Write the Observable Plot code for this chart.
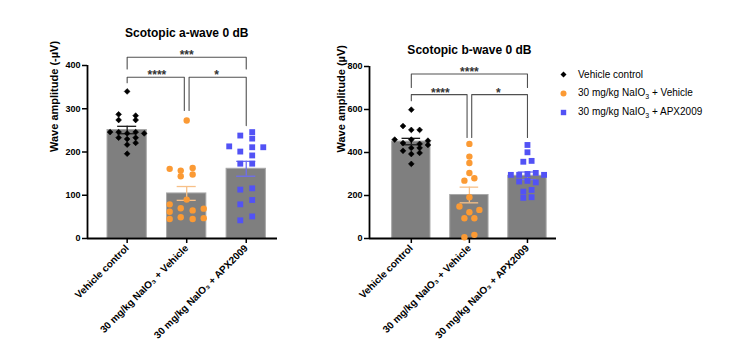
<!DOCTYPE html>
<html><head><meta charset="utf-8">
<script src="https://cdn.jsdelivr.net/npm/d3@7"></script>
<script src="https://cdn.jsdelivr.net/npm/@observablehq/plot@0.6"></script>
<style>
body{margin:0;background:#fff;font-family:"Liberation Sans",Arial,sans-serif;color:#000;}
#wrap{position:relative;width:736px;height:356px;overflow:hidden;background:#fff;}
#left,#right{position:absolute;top:0;}
#left{left:0px;}
#right{left:300px;}
#legend{position:absolute;left:560px;top:65px;font-size:10px;}
#legend .row{display:flex;align-items:center;height:19px;white-space:nowrap;}
#legend svg{margin-right:11px;}
</style></head>
<body><div id="wrap"><div id="left"></div><div id="right"></div><div id="legend"></div></div>
<script>
// ---------- data ----------
const groups = ["Vehicle control", "30 mg/kg NaIO₃ + Vehicle", "30 mg/kg NaIO₃ + APX2009"];
const groupColors = ["#000000", "#fb9a34", "#5252f5"];
const errColors = ["#1a1a1a", "#f7c088", "#6e6ef2"];
const groupSymbols = ["diamond2", "circle", "square"];

// Scotopic a-wave (values, column slots)
const aTitle = "Scotopic a-wave 0 dB";
const aYLabel = "Wave amplitude (-µV)";
const aTicks = [0, 100, 200, 300, 400];
const aCtrl = [340, 287, 284, 274, 274, 246, 246, 243, 246, 243, 233, 230, 233, 217, 221, 196];
const aCtrlCol = [0, -1, 1, -1, 1, -2, -1, 0, 1, 2, -1, 0, 1, 0, 1, 0];
const aVeh = [273, 161, 157, 163, 144, 148, 90, 79, 62, 45, 70, 49, 65, 45, 69, 47];
const aVehCol = [0, -2, -0.7, 0.7, -0.7, 0.7, 0, -2, -2, -2, -0.7, -0.7, 0.7, 0.7, 2, 2];
const aApx = [238, 246, 231, 213, 211, 211, 201, 192, 173, 173, 113, 116, 79, 89, 42, 51];
const aApxCol = [-0.7, 0.7, 0.7, -2, 0.7, 2, -0.7, 0.7, -0.7, 0.7, -0.7, 0.7, -0.7, 0.7, -0.7, 0.7];
const aBrFrom = [0, 0, 1];
const aBrTo = [2, 1, 2];
const aBrLevel = [419, 373, 373];
const aBrDropFrom = [392, 360, 296];
const aBrDropTo = [392, 296, 261];
const aBrLabel = ["***", "****", "*"];

// Scotopic b-wave
const bTitle = "Scotopic b-wave 0 dB";
const bYLabel = "Wave amplitude (µV)";
const bTicks = [0, 200, 400, 600, 800];
const bCtrl = [599, 523, 505, 505, 460, 444, 460, 440, 455, 435, 408, 421, 421, 393, 398, 347];
const bCtrlCol = [0, -1, 0, 1, -2, -1, 0, 1, 2, 2, -1, 0, 1, 0, 1, 0];
const bVeh = [440, 381, 351, 305, 269, 280, 192, 149, 133, 122, 94, 94, 6, 17];
const bVehCol = [0, 0, 0, 0, -0.6, 0.6, 0, -1.2, 1.2, 0, -0.6, 0.6, -0.6, 0.6];
const bApx = [435, 401, 357, 361, 296, 296, 300, 305, 296, 265, 268, 261, 218, 226, 189, 192];
const bApxCol = [0, 0, -0.5, 0.5, -2, -1, 0, 1, 2, -1, 0, 1, -0.5, 0.5, -0.5, 0.5];
const bBrFrom = [0, 0, 1];
const bBrTo = [2, 1, 2];
const bBrLevel = [765, 669, 669];
const bBrDropFrom = [702, 641, 470];
const bBrDropTo = [702, 470, 470];
const bBrLabel = ["****", "****", "*"];

// ---------- drawing ----------
const slot = 0.143, barHalf = 0.33, capHalf = 0.16, innerShift = 0.04;
const font = "'Liberation Sans', Arial, sans-serif";

function panel(o) {
  const sets = [[o.v0, o.c0], [o.v1, o.c1], [o.v2, o.c2]];
  const pts = sets.map(([v, c], g) => v.map((val, i) => ({g, v: val, x: g + c[i] * slot})));
  const summary = sets.map(([v], g) => {
    const m = d3.mean(v), s = d3.deviation(v) / Math.sqrt(v.length);
    return {g, mean: m, lo: m - s, hi: m + s};
  });
  // brackets
  const brPts = [], brLab = [];
  o.brFrom.forEach((f, i) => {
    const t = o.brTo[i], L = o.brLevel[i];
    const shared = (g) => o.brFrom.some((ff, j) => j !== i && o.brLevel[j] === L && (ff === g || o.brTo[j] === g));
    const xf = f + (shared(f) ? innerShift : 0);
    const xt = t - (shared(t) ? innerShift : 0);
    brPts.push({id: i, x: xf, y: o.brDropFrom[i]}, {id: i, x: xf, y: L}, {id: i, x: xt, y: L}, {id: i, x: xt, y: o.brDropTo[i]});
    brLab.push({x: (f + t) / 2, y: L, t: o.brLabel[i]});
  });
  const marks = [
    Plot.rectY(summary, {x1: d => d.g - barHalf, x2: d => d.g + barHalf, y1: 0, y2: "mean", fill: "#7f7f7f", stroke: "#a8a8a8", strokeWidth: 1}),
    Plot.ruleY([0], {stroke: "#000", strokeWidth: 1.8}),
    Plot.ruleX([o.xDomain[0]], {y1: o.yDomain[0], y2: o.yDomain[1], stroke: "#000", strokeWidth: 1.8}),
    Plot.axisY({ticks: o.ticks, tickSize: 5, tickPadding: 2, fontSize: 9, fontWeight: "bold", strokeWidth: 1.5, label: null}),
    Plot.axisX({ticks: [0, 1, 2], tickFormat: i => groups[i], tickRotate: -45, tickSize: 5, tickPadding: 3, fontSize: 10, fontWeight: "bold", strokeWidth: 1.5, label: null}),
    Plot.text([o.yLabel], {frameAnchor: "left", rotate: -90, dx: o.labelDx, fontSize: 11, fontWeight: "bold", text: d => d}),
    Plot.text([o.title], {x: () => 1, frameAnchor: "top", dy: o.titleDy, fontSize: 12, fontWeight: "bold", text: d => d}),
    Plot.line(brPts, {x: "x", y: "y", z: "id", stroke: "#505050", strokeWidth: 1.1}),
    Plot.text(brLab, {x: "x", y: "y", text: "t", dy: -2, fontSize: 12, fontWeight: "bold", fill: "#333"}),
    Plot.ruleX(summary, {x: "g", y1: "lo", y2: "hi", stroke: (d) => errColors[d.g], strokeWidth: 1.3}),
    Plot.ruleY(summary.flatMap(d => [{g: d.g, y: d.lo}, {g: d.g, y: d.hi}]), {x1: d => d.g - capHalf, x2: d => d.g + capHalf, y: "y", stroke: d => errColors[d.g], strokeWidth: 1.3}),
  ];
  pts.forEach((p, g) => {
    const r = g === 0 ? 2.6 : g === 1 ? 3.2 : 3.3;
    marks.push(Plot.dot(p, {x: "x", y: "v", symbol: groupSymbols[g], r, fill: groupColors[g], stroke: groupColors[g], strokeWidth: g === 0 ? 0.6 : 0}));
  });
  return Plot.plot({
    width: o.width, height: 356,
    marginLeft: o.marginLeft, marginRight: o.marginRight, marginTop: o.marginTop, marginBottom: o.marginBottom,
    x: {type: "linear", domain: o.xDomain},
    y: {type: "linear", domain: o.yDomain},
    style: {fontFamily: font, background: "#fff", color: "#000", overflow: "visible"},
    marks
  });
}

document.getElementById("left").append(panel({
  v0: aCtrl, c0: aCtrlCol, v1: aVeh, c1: aVehCol, v2: aApx, c2: aApxCol,
  brFrom: aBrFrom, brTo: aBrTo, brLevel: aBrLevel, brDropFrom: aBrDropFrom, brDropTo: aBrDropTo, brLabel: aBrLabel,
  ticks: aTicks, yDomain: [0, 400], xDomain: [-0.666, 2.525],
  title: aTitle, titleDy: -37, yLabel: aYLabel, labelDx: -33,
  width: 300, marginLeft: 87, marginRight: 23, marginTop: 65, marginBottom: 118
}));
document.getElementById("right").append(panel({
  v0: bCtrl, c0: bCtrlCol, v1: bVeh, c1: bVehCol, v2: bApx, c2: bApxCol,
  brFrom: bBrFrom, brTo: bBrTo, brLevel: bBrLevel, brDropFrom: bBrDropFrom, brDropTo: bBrDropTo, brLabel: bBrLabel,
  ticks: bTicks, yDomain: [0, 800], xDomain: [-0.72, 2.5],
  title: bTitle, titleDy: -21, yLabel: bYLabel, labelDx: -28,
  width: 270, marginLeft: 69, marginRight: 14, marginTop: 66, marginBottom: 118
}));

// legend
const legendShapes = [
  '<polygon points="3.5,0.5 6.5,3.5 3.5,6.5 0.5,3.5" fill="#000"/>',
  '<circle cx="3.5" cy="3.5" r="3" fill="' + groupColors[1] + '"/>',
  '<rect x="0.8" y="0.8" width="5.4" height="5.4" fill="' + groupColors[2] + '"/>'
];
const legendLabels = ["Vehicle control", "30 mg/kg NaIO<sub style=\"font-size:7px\">3</sub> + Vehicle", "30 mg/kg NaIO<sub style=\"font-size:7px\">3</sub> + APX2009"];
const leg = document.getElementById("legend");
groups.forEach((g, i) => {
  const row = document.createElement("div");
  row.className = "row";
  row.innerHTML = '<svg width="7" height="7">' + legendShapes[i] + '</svg><span>' + legendLabels[i] + '</span>';
  leg.append(row);
});
</script>
</body></html>
